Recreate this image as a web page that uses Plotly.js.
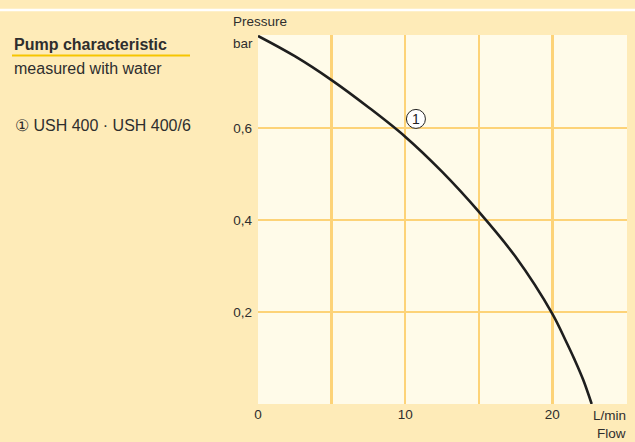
<!DOCTYPE html>
<html>
<head>
<meta charset="utf-8">
<script src="https://cdn.plot.ly/plotly-3.0.1.min.js"></script>
<style>html,body{margin:0;padding:0;background:#feebb8;}#chart{width:635px;height:442px;}</style>
</head>
<body>
<div id="chart"></div>
<script>
// Data
const flow = [0, 2.5, 5, 7.5, 10, 12.5, 15, 17.5, 20, 20.9, 21.5, 22.1, 22.67];               // L/min
const pressure = [0.800, 0.756, 0.704, 0.645, 0.581, 0.505, 0.418, 0.320, 0.196, 0.138, 0.097, 0.052, 0.0]; // bar
const xGridVals = [5, 10, 15, 20];
const xGridText = ['', '10', '', '20'];
const xZeroVals = [0];
const xZeroText = ['0'];
const yTickVals = [0.2, 0.4, 0.6];
const yTickText = ['0,2', '0,4', '0,6'];
const curveLabel = '1';
const curveLabelPos = {x: 10.73, y: 0.6196};

const W = 635, H = 442;
const M = {l: 258, r: 8, t: 35, b: 38};
const PW = W - M.l - M.r, PH = H - M.t - M.b;
const px = x => (x - M.l) / PW;
const py = y => (H - M.b - y) / PH;

const OUTER = '#feebb8';
const INNER = '#fffbe9';
const GRID = '#fdd378';
const TXT = '#2e2e2e';
const SANS = '"Liberation Sans", Arial, Helvetica, sans-serif';
const AX = 13.5;

const trace = {
  x: flow, y: pressure, type: 'scatter', mode: 'lines',
  line: {color: '#1e1e1e', width: 2.6, shape: 'spline', smoothing: 1},
  hoverinfo: 'skip', showlegend: false
};
// invisible companion trace so the secondary x axis (carrying the "0" label) is drawn
const axisHolder = {
  x: flow, y: pressure, xaxis: 'x2', type: 'scatter', mode: 'lines',
  line: {width: 0, color: 'rgba(0,0,0,0)'}, opacity: 0, hoverinfo: 'skip', showlegend: false
};

const layout = {
  width: W, height: H,
  margin: M,
  paper_bgcolor: OUTER,
  plot_bgcolor: INNER,
  showlegend: false,
  font: {family: SANS, size: AX, color: TXT},
  xaxis: {
    range: [0, 25.07], tickvals: xGridVals, ticktext: xGridText,
    showgrid: true, gridcolor: GRID, gridwidth: 2.5, zeroline: false,
    showline: false, ticks: '', tickfont: {family: SANS, size: AX, color: TXT},
    fixedrange: true
  },
  xaxis2: {
    range: [0, 25.07], overlaying: 'x', side: 'bottom',
    tickvals: xZeroVals, ticktext: xZeroText, showgrid: false, zeroline: false,
    showline: false, ticks: '', tickfont: {family: SANS, size: AX, color: TXT}, fixedrange: true
  },
  yaxis: {
    range: [0, 0.802], tickvals: yTickVals, ticktext: yTickText,
    showgrid: true, gridcolor: GRID, gridwidth: 2.5, zeroline: false,
    showline: false, ticks: '', ticklabelstandoff: 5,
    tickfont: {family: SANS, size: AX, color: TXT}, fixedrange: true
  },
  shapes: [
    {type: 'line', xref: 'paper', yref: 'paper', x0: px(0), x1: px(W), y0: py(10), y1: py(10),
     line: {color: '#ffffff', width: 2.5}},
    {type: 'line', xref: 'paper', yref: 'paper', x0: px(12), x1: px(190), y0: py(55.5), y1: py(55.5),
     line: {color: '#f6c500', width: 2.2}},
    {type: 'circle', xref: 'x', yref: 'y', xsizemode: 'pixel', ysizemode: 'pixel',
     xanchor: curveLabelPos.x, yanchor: curveLabelPos.y, x0: -9.5, x1: 9.5, y0: -9.5, y1: 9.5,
     fillcolor: '#ffffff', line: {color: '#222222', width: 1}, layer: 'above'}
  ],
  annotations: [
    {xref: 'paper', yref: 'paper', x: px(12), y: py(44), xanchor: 'left', yanchor: 'middle',
     text: '<b>Pump characteristic</b>', showarrow: false, font: {family: SANS, size: 16, color: TXT}},
    {xref: 'paper', yref: 'paper', x: px(12), y: py(68), xanchor: 'left', yanchor: 'middle',
     text: 'measured with water', showarrow: false, font: {family: SANS, size: 16, color: TXT}},
    {xref: 'paper', yref: 'paper', x: px(13), y: py(125), xanchor: 'left', yanchor: 'middle',
     text: '\u2460 USH 400 · USH 400/6', showarrow: false, font: {family: SANS, size: 16, color: TXT}},
    {xref: 'paper', yref: 'paper', x: px(231), y: py(22), xanchor: 'left', yanchor: 'middle',
     text: 'Pressure', showarrow: false, font: {family: SANS, size: AX, color: TXT}},
    {xref: 'paper', yref: 'paper', x: px(231), y: py(43), xanchor: 'left', yanchor: 'middle',
     text: 'bar', showarrow: false, font: {family: SANS, size: AX, color: TXT}},
    {xref: 'paper', yref: 'paper', x: px(628), y: py(415), xanchor: 'right', yanchor: 'middle',
     text: 'L/min', showarrow: false, font: {family: SANS, size: AX, color: TXT}},
    {xref: 'paper', yref: 'paper', x: px(628), y: py(433.5), xanchor: 'right', yanchor: 'middle',
     text: 'Flow', showarrow: false, font: {family: SANS, size: AX, color: TXT}},
    {xref: 'x', yref: 'y', x: curveLabelPos.x, y: curveLabelPos.y, xanchor: 'center', yanchor: 'middle',
     text: curveLabel, showarrow: false, font: {family: SANS, size: 14, color: '#222'}}
  ]
};

Plotly.newPlot('chart', [trace, axisHolder], layout, {displayModeBar: false, staticPlot: true});
</script>
</body>
</html>
